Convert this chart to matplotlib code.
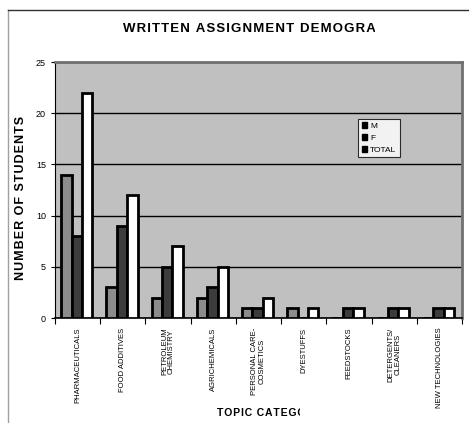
import numpy as np
import matplotlib.pyplot as plt
from matplotlib.patches import Rectangle
from matplotlib.lines import Line2D
from matplotlib.transforms import Bbox

categories = ['PHARMACEUTICALS', 'FOOD ADDITIVES', 'PETROLEUM\nCHEMISTRY', 'AGRICHEMICALS',
              'PERSONAL CARE-\nCOSMETICS', 'DYESTUFFS', 'FEEDSTOCKS', 'DETERGENTS/\nCLEANERS',
              'NEW TECHNOLOGIES']
male = [14, 3, 2, 2, 1, 1, 0, 0, 0]
female = [8, 9, 5, 3, 1, 0, 1, 1, 1]
total = [22, 12, 7, 5, 2, 1, 1, 1, 1]
series_names = ['M', 'F', 'TOTAL']
yticks = [0, 5, 10, 15, 20, 25]

plt.rcParams['font.family'] = ['Liberation Sans', 'DejaVu Sans']


def spaced(s):
    # slightly wider letter spacing for the bold captions
    return '\u200a'.join(s)


W, H = 469, 423
fig = plt.figure(figsize=(W / 100, H / 100), dpi=100)

# outer chart frame
fig.add_artist(Line2D([8 / W, 8 / W], [0, 1 - 10 / H], color='#a0a0a0', lw=1))
fig.add_artist(Line2D([8 / W, 1], [1 - 10 / H, 1 - 10 / H], color='#303030', lw=1))

ax = fig.add_axes([55 / W, 1 - 318 / H, (462 - 55) / W, (318 - 62) / H])
ax.set_facecolor('#c0c0c0')

x = np.arange(len(categories))
w = 0.23
colors = ['#8c8c8c', '#3c3c3c', '#ffffff']
for i, (vals, c) in enumerate(zip([male, female, total], colors)):
    ax.bar(x + (i - 1) * w - 0.02, vals, w, color=c, edgecolor='black', linewidth=2,
           zorder=3, label=series_names[i])

ax.set_xlim(-0.5, len(categories) - 0.5)
ax.set_ylim(0, 25)
ax.set_yticks(yticks)
ax.yaxis.grid(True, color='black', lw=1)
ax.set_axisbelow(True)
ax.tick_params(axis='y', labelsize=6.5, length=3, color='black')
ax.set_xticks(np.arange(len(categories) + 1) - 0.5, minor=False)
ax.set_xticklabels([])
ax.tick_params(axis='x', length=4, color='black', direction='out')
ax.set_xticks(x, minor=True)
ax.set_xticklabels(categories, minor=True, rotation=90, fontsize=5.5, va='top',
                   ha='center', linespacing=1.0)
ax.tick_params(axis='x', which='minor', length=0, pad=7)

for s in ['top', 'right']:
    ax.spines[s].set_color('#707070')
    ax.spines[s].set_linewidth(2)
ax.spines['left'].set_color('black')
ax.spines['bottom'].set_color('black')
ax.spines['bottom'].set_linewidth(1.2)

ax.set_ylabel(spaced('NUMBER OF STUDENTS'), fontsize=9, fontweight='bold')
ax.yaxis.set_label_coords(-0.069, 0.47)

# legend with plain black markers
handles = [Rectangle((0, 0), 1, 1, facecolor='black', edgecolor='black') for _ in series_names]
leg = ax.legend(handles, series_names, loc='upper left', bbox_to_anchor=(0.735, 0.795),
                fontsize=6, frameon=True, fancybox=False, handlelength=0.7, handleheight=0.7,
                handletextpad=0.3, borderpad=0.4, labelspacing=0.5, edgecolor='black')
leg.get_frame().set_linewidth(0.8)

# captions cut off on the right
t = fig.text(123 / W, 1 - 29 / H, spaced('WRITTEN ASSIGNMENT DEMOGRAPHICS'), fontsize=9.5,
             fontweight='bold', ha='left', va='center')
t.set_clip_box(Bbox.from_extents(0, 0, 375, H))
t.set_clip_on(True)
t2 = fig.text(217 / W, 1 - 413 / H, spaced('TOPIC CATEGORY'), fontsize=7.5,
              fontweight='bold', ha='left', va='center')
t2.set_clip_box(Bbox.from_extents(0, 0, 300, H))
t2.set_clip_on(True)

fig.savefig('out.png', dpi=100)
plt.close(fig)
